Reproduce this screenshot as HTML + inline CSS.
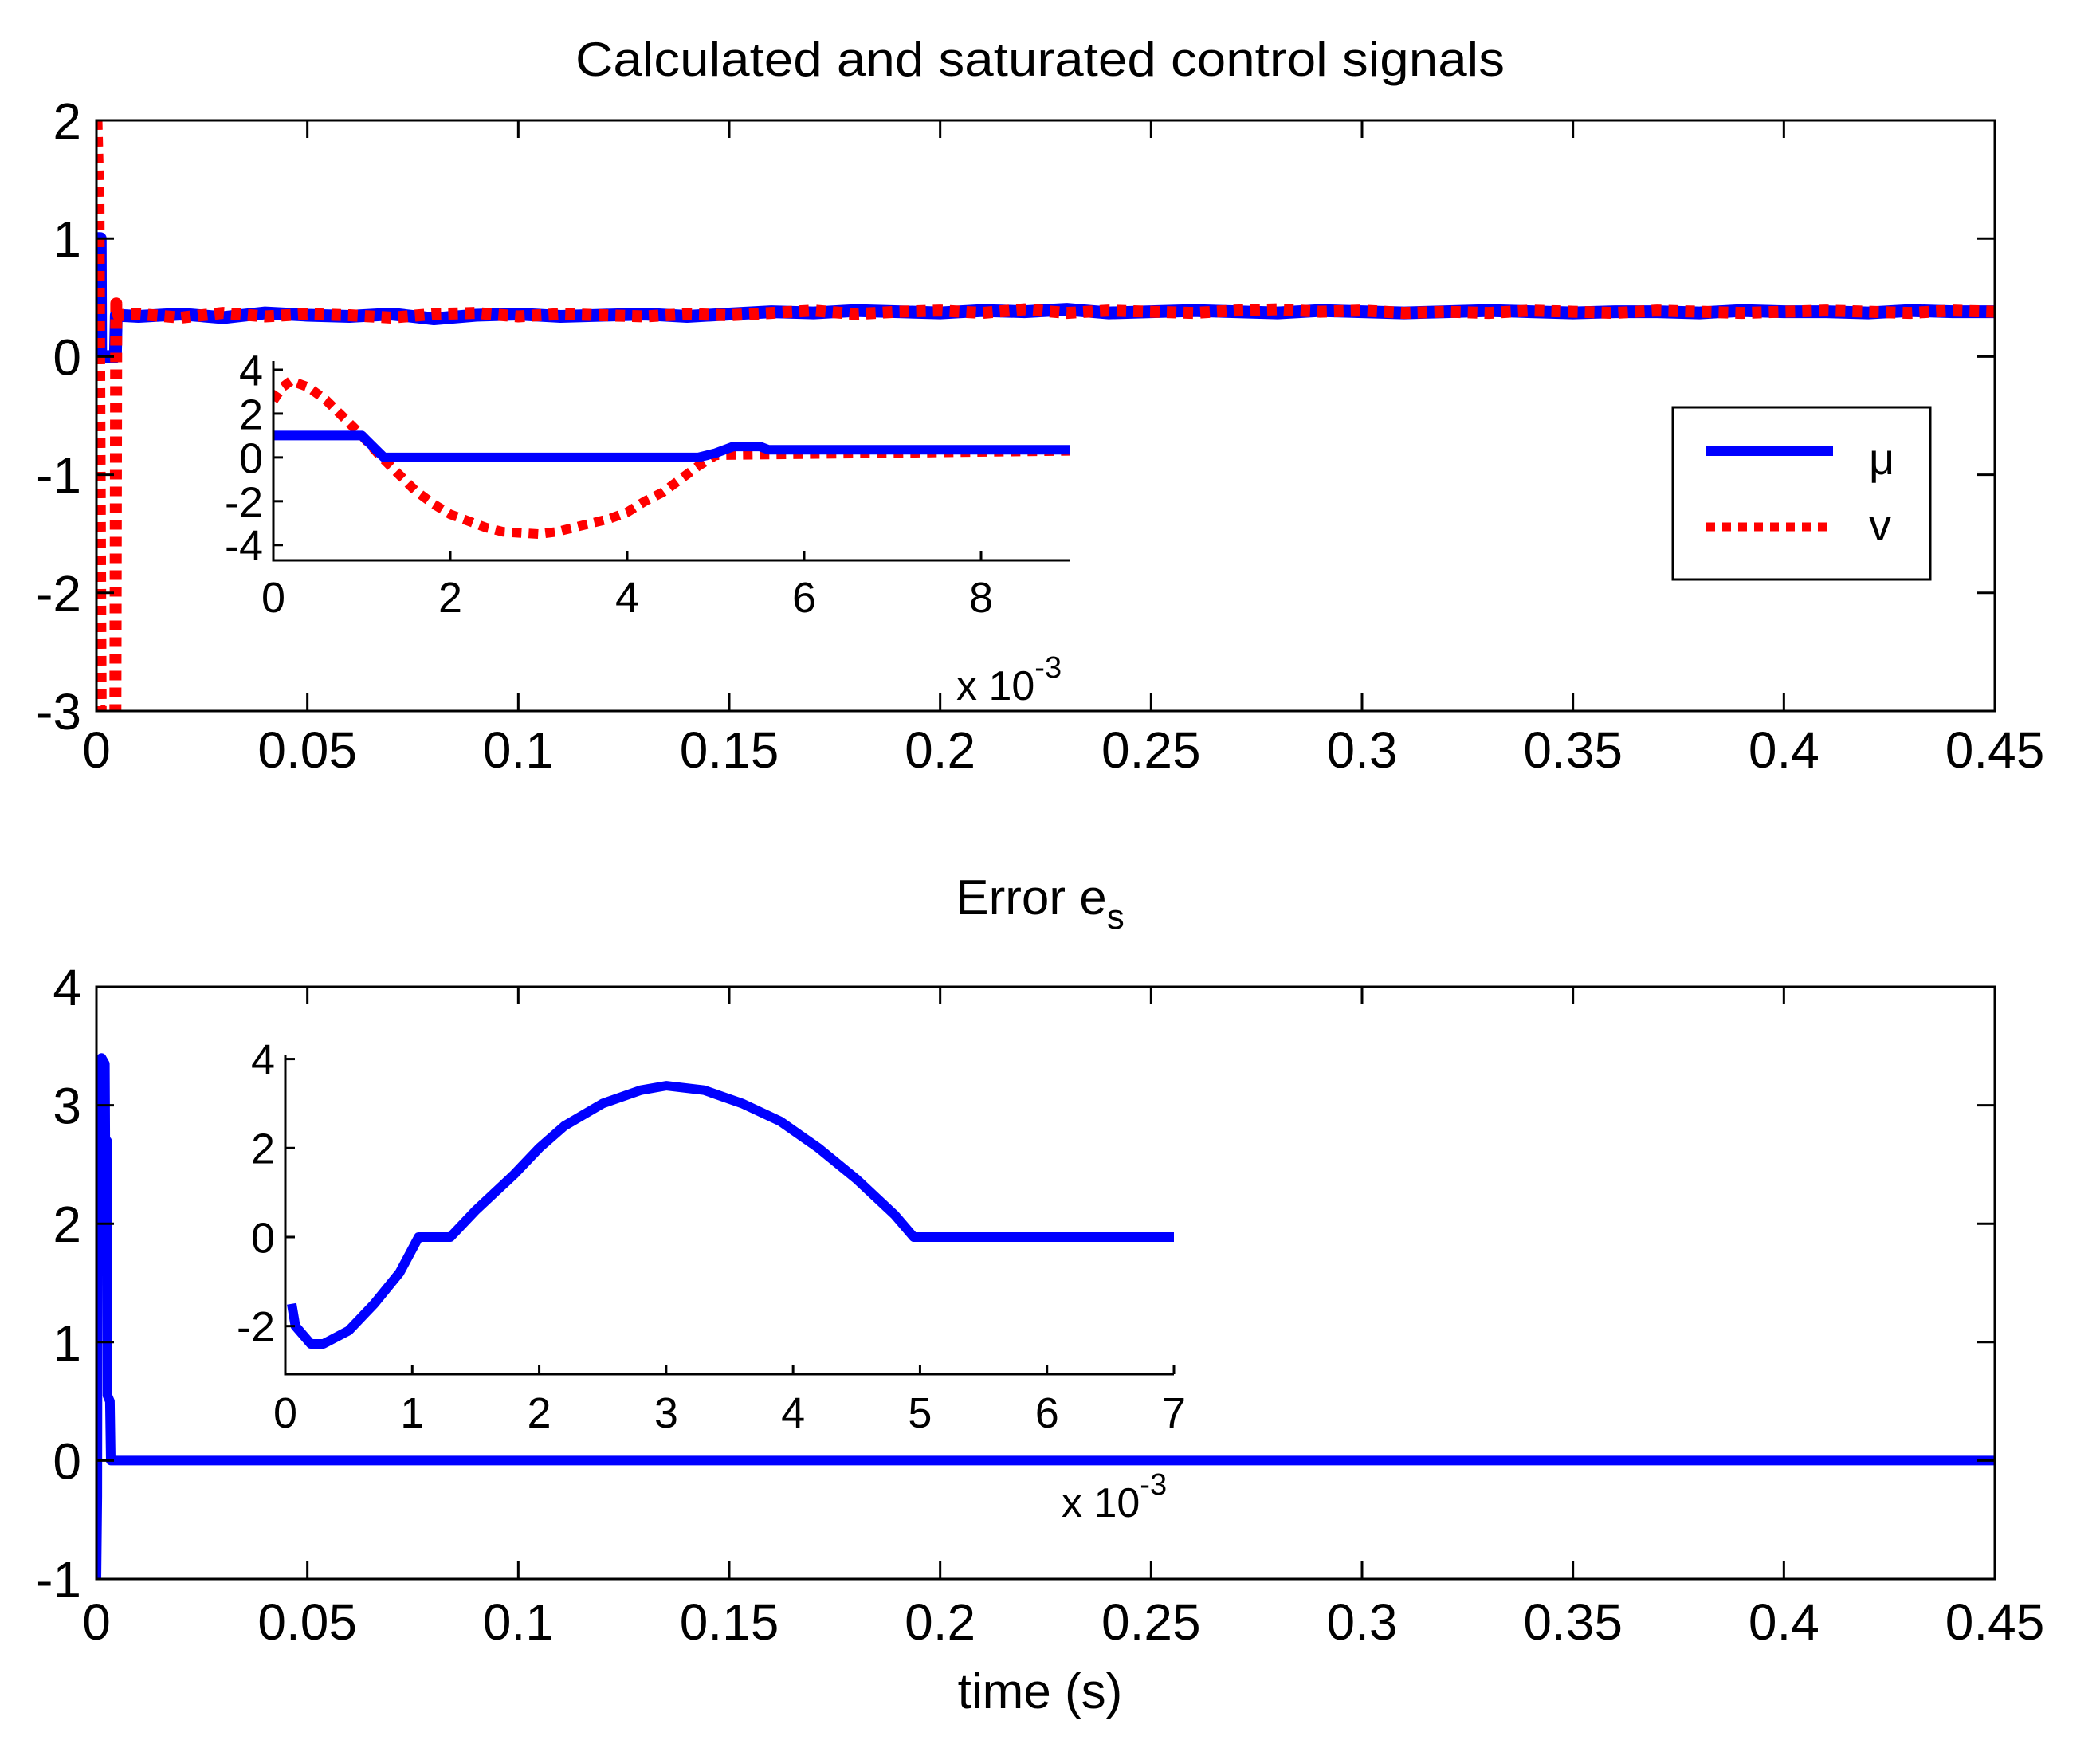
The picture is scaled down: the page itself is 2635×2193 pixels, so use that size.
<!DOCTYPE html>
<html><head><meta charset="utf-8"><title>Control signals and error</title>
<style>html,body{margin:0;padding:0;background:#fff}svg{display:block}text{font-family:"Liberation Sans",Arial,sans-serif;fill:#000}</style>
</head><body>
<svg id="fig" xmlns="http://www.w3.org/2000/svg" width="2635" height="2193" viewBox="0 0 2635 2193">
<rect width="2635" height="2193" fill="#fff"/>
<text x="1305" y="95" font-size="60" text-anchor="middle" textLength="1166" lengthAdjust="spacingAndGlyphs">Calculated and saturated control signals</text>
<text x="1305" y="1147" font-size="62" text-anchor="middle">Error e<tspan font-size="44" dy="18">s</tspan></text>
<text x="1305" y="2143" font-size="62" text-anchor="middle">time (s)</text>
<g id="layer"></g>
</svg>
<script>
// ---- data ----
// inset (time in ms)
const muInsetT = [0, 1.0, 1.1, 1.25, 4.8, 5.0, 5.2, 5.5, 5.6, 9];
const muInsetV = [1.0, 1.0, 0.6, 0.0, 0.0, 0.2, 0.5, 0.5, 0.35, 0.35];
const vInsetT = [0, 0.1, 0.2, 0.4, 0.6, 0.8, 1.0, 1.2, 1.4, 1.6, 1.8, 2.0, 2.2, 2.4, 2.6, 2.8, 3.0, 3.2, 3.4, 3.6, 3.8, 4.0, 4.2, 4.4, 4.6, 4.8, 5.0, 9];
const vInsetV = [2.6, 3.2, 3.5, 3.2, 2.6, 1.8, 1.0, 0.1, -0.7, -1.5, -2.1, -2.6, -2.9, -3.2, -3.4, -3.45, -3.5, -3.4, -3.2, -3.0, -2.8, -2.5, -2.0, -1.6, -1.0, -0.4, 0.1, 0.3];
const errInsetT = [0.05, 0.08, 0.2, 0.3, 0.5, 0.7, 0.9, 1.05, 1.3, 1.5, 1.8, 2.0, 2.2, 2.5, 2.8, 3.0, 3.3, 3.6, 3.9, 4.2, 4.5, 4.8, 4.95, 7];
const errInsetV = [-1.5, -2.0, -2.4, -2.4, -2.1, -1.5, -0.8, 0.0, 0.0, 0.6, 1.4, 2.0, 2.5, 3.0, 3.3, 3.4, 3.3, 3.0, 2.6, 2.0, 1.3, 0.5, 0.0, 0.0];
// main top (time in s)
const muEarlyT = [0, 0.0009, 0.001, 0.0045, 0.0047];
const muEarlyV = [1.0, 1.0, 0.0, 0.0, 0.35];
const vEarlyT = [0, 0.0005, 0.001, 0.0045, 0.0047, 0.0052];
const vEarlyV = [2.0, 1.3, -3.0, -3.0, 0.45, 0.35];
const steadyT = [0.01,0.02,0.03,0.04,0.05,0.06,0.07,0.08,0.09,0.10,0.11,0.12,0.13,0.14,0.15,0.16,0.17,0.18,0.19,0.20,0.21,0.22,0.23,0.24,0.25,0.26,0.27,0.28,0.29,0.30,0.31,0.32,0.33,0.34,0.35,0.36,0.37,0.38,0.39,0.40,0.41,0.42,0.43,0.44,0.45];
const muSteady = [0.34,0.36,0.33,0.37,0.35,0.34,0.36,0.32,0.35,0.36,0.34,0.35,0.36,0.34,0.36,0.38,0.37,0.39,0.38,0.37,0.39,0.38,0.40,0.37,0.38,0.39,0.38,0.37,0.39,0.38,0.37,0.38,0.39,0.38,0.37,0.38,0.38,0.37,0.39,0.38,0.38,0.37,0.39,0.38,0.38];
const vSteady = [0.36,0.33,0.37,0.34,0.36,0.35,0.33,0.36,0.37,0.34,0.36,0.35,0.34,0.36,0.35,0.37,0.39,0.36,0.38,0.39,0.37,0.40,0.37,0.39,0.38,0.37,0.39,0.40,0.38,0.39,0.37,0.38,0.37,0.39,0.38,0.37,0.39,0.38,0.37,0.38,0.39,0.38,0.37,0.39,0.38];
// main bottom error (time in s)
const errT = [0, 0.0002, 0.0003, 0.0010, 0.0012, 0.0020, 0.0021, 0.0025, 0.0026, 0.0032, 0.0034, 0.45];
const errV = [-1.0, -0.3, 2.0, 2.1, 3.4, 3.35, 2.7, 2.7, 0.55, 0.5, 0.0, 0.0];
const mainXTicks = [0, 0.05, 0.1, 0.15, 0.2, 0.25, 0.3, 0.35, 0.4, 0.45];
const mainXLabels = ["0","0.05","0.1","0.15","0.2","0.25","0.3","0.35","0.4","0.45"];
const topYTicks = [2, 1, 0, -1, -2, -3];
const botYTicks = [4, 3, 2, 1, 0, -1];
const inset1XTicks = [0, 2, 4, 6, 8];
const inset1YTicks = [4, 2, 0, -2, -4];
const inset2XTicks = [0, 1, 2, 3, 4, 5, 6, 7];
const inset2YTicks = [4, 2, 0, -2];

const NS = "http://www.w3.org/2000/svg";
const layer = document.getElementById('layer');
function mk(tag, attrs, parent) {
  const e = document.createElementNS(NS, tag);
  for (const k in attrs) e.setAttribute(k, attrs[k]);
  (parent || layer).appendChild(e);
  return e;
}
function axes(x0, x1, y0, y1, xmin, xmax, ymin, ymax) {
  return {
    x: v => x0 + (v - xmin) / (xmax - xmin) * (x1 - x0),
    y: v => y1 - (v - ymin) / (ymax - ymin) * (y1 - y0),
    x0, x1, y0, y1
  };
}
let clipId = 0;
function clip(a) {
  const defs = mk('defs', {});
  const cp = mk('clipPath', {id: 'c' + (++clipId)}, defs);
  mk('rect', {x: a.x0, y: a.y0, width: a.x1 - a.x0, height: a.y1 - a.y0}, cp);
  return 'url(#c' + clipId + ')';
}
function line(a, ts, vs, scale, stroke, width, dash, name, cp) {
  let d = '';
  for (let i = 0; i < ts.length; i++) d += (i ? 'L' : 'M') + a.x(ts[i] * scale).toFixed(1) + ' ' + a.y(vs[i]).toFixed(1);
  const p = mk('path', {d, fill: 'none', stroke, 'stroke-width': width, 'stroke-linejoin': 'round', 'clip-path': cp});
  if (dash) p.setAttribute('stroke-dasharray', dash);
  
  
}
function frame(a, box, name) {
  if (box) {
    const r = mk('rect', {x: a.x0, y: a.y0, width: a.x1 - a.x0, height: a.y1 - a.y0, fill: 'none', stroke: '#000', 'stroke-width': 3});
    
    
  } else {
    const p = mk('path', {d: `M${a.x0} ${a.y0}V${a.y1}H${a.x1}`, fill: 'none', stroke: '#000', 'stroke-width': 3});
    
    
  }
}
function xticks(a, ticks, labels, len, both, fs, ly, name) {
  ticks.forEach((t, i) => {
    const x = a.x(t);
    mk('line', {x1: x, x2: x, y1: a.y1, y2: a.y1 - len, stroke: '#000', 'stroke-width': 3});
    if (both) mk('line', {x1: x, x2: x, y1: a.y0, y2: a.y0 + len, stroke: '#000', 'stroke-width': 3});
    const tx = mk('text', {x, y: ly, 'font-size': fs, 'text-anchor': 'middle'});
    tx.textContent = labels[i];
    
    
  });
}
function yticks(a, ticks, len, both, fs, lx, name) {
  ticks.forEach(t => {
    const y = a.y(t);
    mk('line', {x1: a.x0, x2: a.x0 + len, y1: y, y2: y, stroke: '#000', 'stroke-width': 3});
    if (both) mk('line', {x1: a.x1, x2: a.x1 - len, y1: y, y2: y, stroke: '#000', 'stroke-width': 3});
    const tx = mk('text', {x: lx, y: y + fs * 0.36, 'font-size': fs, 'text-anchor': 'end'});
    tx.textContent = String(t);
    
    
  });
}

// ---- top main ----
const A1 = axes(121, 2503, 151, 892, 0, 0.45, -3, 2);
const c1 = clip(A1);
line(A1, muEarlyT.concat(steadyT), muEarlyV.concat(muSteady), 1, '#0000ff', 16, null, 'mu-series-main', c1);
line(A1, vEarlyT.concat(steadyT), vEarlyV.concat(vSteady), 1, '#ff0000', 15, '12 9', 'v-series-main', c1);
frame(A1, true, 'top-axes-frame');
xticks(A1, mainXTicks, mainXLabels, 22, true, 64, 963, 'top-x-tick-label');
yticks(A1, topYTicks, 22, true, 64, 102, 'top-y-tick-label');

// ---- inset 1 ----
const I1 = axes(343, 1342, 453, 703, 0, 9, -4.7, 4.4);
const ci1 = clip(I1);
line(I1, vInsetT, vInsetV, 1, '#ff0000', 12, '12 9', 'v-series-inset', ci1);
line(I1, muInsetT, muInsetV, 1, '#0000ff', 12, null, 'mu-series-inset', ci1);
frame(I1, false, 'inset1-axes');
xticks(I1, inset1XTicks, inset1XTicks.map(String), 12, false, 54, 768, 'inset1-x-tick-label');
yticks(I1, inset1YTicks, 12, false, 54, 330, 'inset1-y-tick-label');
const e1 = mk('text', {x: 1200, y: 878, 'font-size': 52});
e1.innerHTML = 'x 10<tspan font-size="38" dy="-28">-3</tspan>';



// ---- legend ----
const lg = mk('g', {});


mk('rect', {x: 2099, y: 511, width: 323, height: 216, fill: '#fff', stroke: '#000', 'stroke-width': 3}, lg);
mk('line', {x1: 2141, x2: 2300, y1: 566, y2: 566, stroke: '#0000ff', 'stroke-width': 12}, lg);
mk('line', {x1: 2141, x2: 2293, y1: 661, y2: 661, stroke: '#ff0000', 'stroke-width': 11, 'stroke-dasharray': '11 9'}, lg);
const t1 = mk('text', {x: 2345, y: 595, 'font-size': 56}, lg);
t1.textContent = 'μ';


const t2 = mk('text', {x: 2345, y: 678, 'font-size': 56}, lg);
t2.textContent = 'v';



// ---- bottom main ----
const A2 = axes(121, 2503, 1238, 1981, 0, 0.45, -1, 4);
const c2 = clip(A2);
line(A2, errT, errV, 1, '#0000ff', 12, null, 'error-series-main', c2);
frame(A2, true, 'bottom-axes-frame');
xticks(A2, mainXTicks, mainXLabels, 22, true, 64, 2057, 'bottom-x-tick-label');
yticks(A2, botYTicks, 22, true, 64, 102, 'bottom-y-tick-label');

// ---- inset 2 ----
const I2 = axes(358, 1473, 1323, 1724, 0, 7, -3.08, 4.1);
const ci2 = clip({x0: I2.x0, x1: I2.x1 + 10, y0: I2.y0, y1: I2.y1});
line(I2, errInsetT, errInsetV, 1, '#0000ff', 12, null, 'error-series-inset', ci2);
frame(I2, false, 'inset2-axes');
xticks(I2, inset2XTicks, inset2XTicks.map(String), 12, false, 54, 1791, 'inset2-x-tick-label');
yticks(I2, inset2YTicks, 12, false, 54, 345, 'inset2-y-tick-label');
const e2 = mk('text', {x: 1332, y: 1903, 'font-size': 52});
e2.innerHTML = 'x 10<tspan font-size="38" dy="-28">-3</tspan>';


</script>
</body></html>
